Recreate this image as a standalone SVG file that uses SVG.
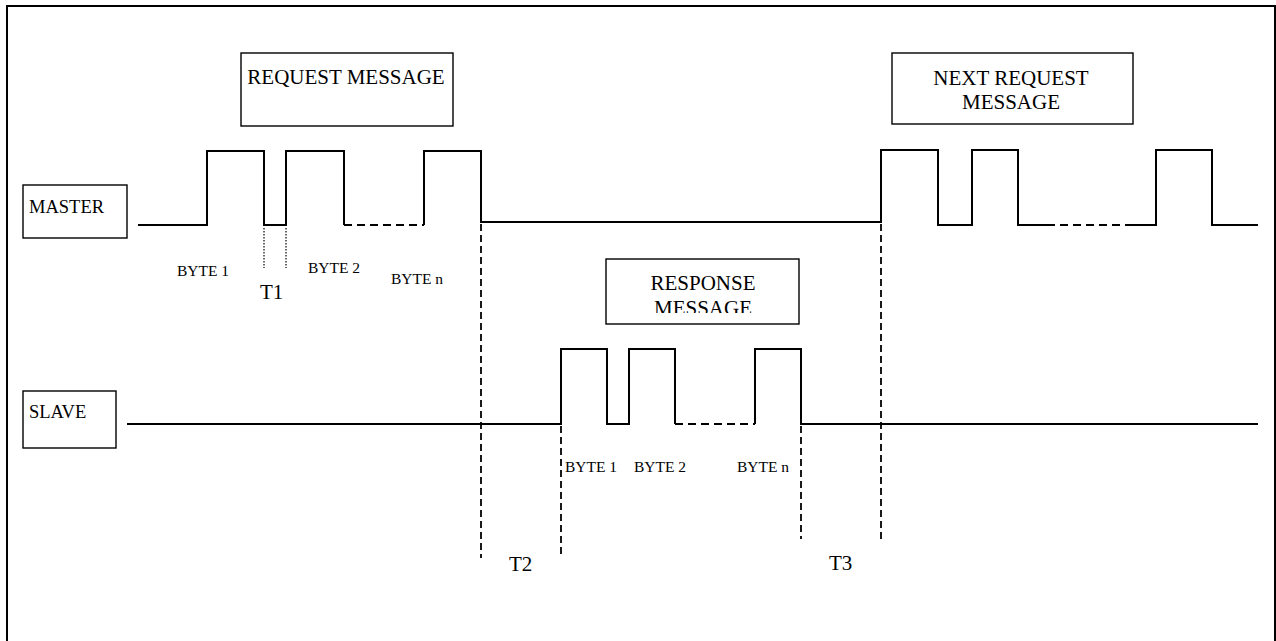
<svg xmlns="http://www.w3.org/2000/svg" width="1276" height="641" viewBox="0 0 1276 641">
<style>
.box{fill:#fff;stroke:#000;stroke-width:1.4}
.sig{fill:none;stroke:#000;stroke-width:2}
.dash{fill:none;stroke:#000;stroke-width:2;stroke-dasharray:8 5}
.vdash{fill:none;stroke:#000;stroke-width:1.8;stroke-dasharray:7 4}
.dot{fill:none;stroke:#000;stroke-width:1.2;stroke-dasharray:1.5 1.5}
text{font-family:"Liberation Serif","Times New Roman",serif;fill:#000}
.big{font-size:21px}
.lab{font-size:18.5px}
.byte{font-size:15.5px}
.t{font-size:21px}
</style>
<defs>
<clipPath id="respClip"><rect x="606" y="259" width="193" height="54"/></clipPath>
</defs>
<rect x="0" y="0" width="1276" height="641" fill="#fff"/>
<rect id="frame" x="7" y="6" width="1268" height="660" fill="none" stroke="#000" stroke-width="2"/>

<g id="master">
<rect class="box" x="23" y="185" width="104" height="53"/>
<text class="lab" x="29" y="213">MASTER</text>
</g>
<g id="slave">
<rect class="box" x="23" y="391" width="93" height="57"/>
<text class="lab" x="29" y="418">SLAVE</text>
</g>
<g id="request">
<rect class="box" x="241" y="53" width="212" height="73"/>
<text class="big" x="346" y="84" text-anchor="middle">REQUEST MESSAGE</text>
</g>
<g id="next-request">
<rect class="box" x="892" y="53" width="241" height="71"/>
<text class="big" x="1011" y="85" text-anchor="middle">NEXT REQUEST</text>
<text class="big" x="1011" y="109" text-anchor="middle">MESSAGE</text>
</g>
<g id="response">
<rect class="box" x="606" y="259" width="193" height="65"/>
<text class="big" x="703" y="290" text-anchor="middle">RESPONSE</text>
<text class="big" x="703" y="315" text-anchor="middle" clip-path="url(#respClip)">MESSAGE</text>
</g>

<g id="connectors">
<path class="sig" d="M138 225 H207 V151 H264 V225 H286 V151 H344 V225"/>
<path class="dash" d="M344 225 H424"/>
<path class="sig" d="M424 225 V151 H481 V222 H881 V150 H938 V225 H972 V150 H1018 V225 H1047"/>
<path class="dash" d="M1047 225 H1132"/>
<path class="sig" d="M1132 225 H1156 V150 H1212 V225 H1258"/>
<path class="sig" d="M127 424 H561 V349 H607 V424 H629 V349 H675 V424"/>
<path class="dash" d="M675 424 H755"/>
<path class="sig" d="M755 424 V349 H801 V424 H1258"/>
<path class="dot" d="M264 228 V268 M286 228 V268"/>
<path class="vdash" d="M481 224 V558"/>
<path class="vdash" d="M561 426 V558"/>
<path class="vdash" d="M801 426 V539"/>
<path class="vdash" d="M881 224 V539"/>
</g>

<g id="labels">
<text class="byte" x="177" y="276">BYTE 1</text>
<text class="byte" x="308" y="273">BYTE 2</text>
<text class="byte" x="391" y="284">BYTE n</text>
<text class="t" x="260" y="299">T1</text>
<text class="byte" x="565" y="472">BYTE 1</text>
<text class="byte" x="634" y="472">BYTE 2</text>
<text class="byte" x="737" y="472">BYTE n</text>
<text class="t" x="509" y="571">T2</text>
<text class="t" x="829" y="570">T3</text>
</g>
</svg>
